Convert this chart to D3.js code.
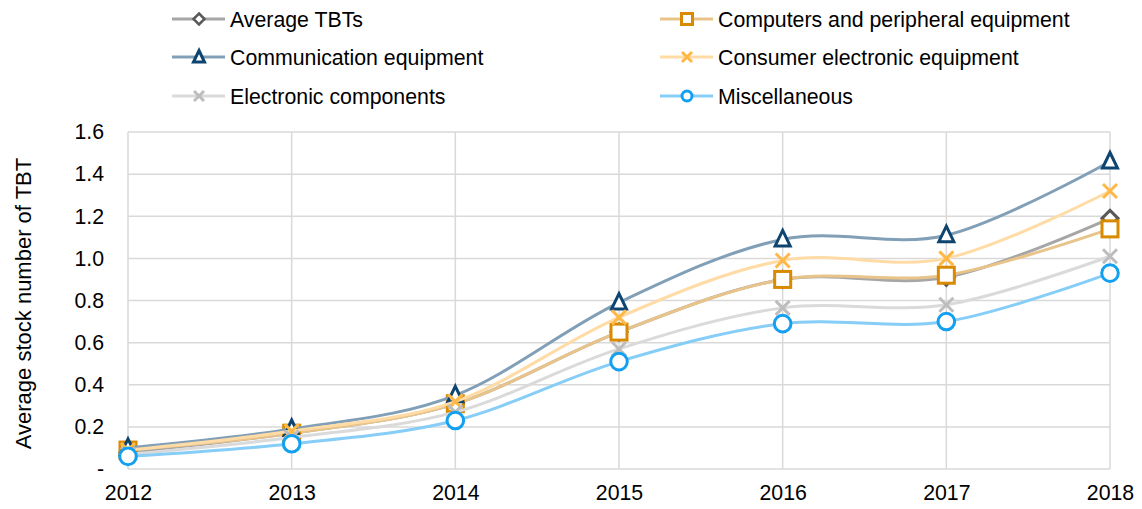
<!DOCTYPE html>
<html>
<head>
<meta charset="utf-8">
<script src="https://cdn.jsdelivr.net/npm/d3@7"></script>
<style>
  html, body { margin: 0; padding: 0; background: #fff; }
  svg { display: block; font-family: "Liberation Sans", Arial, sans-serif; }
</style>
</head>
<body>
<svg id="chart" width="1142" height="509"></svg>
<script>
// Years on the x axis
const years = [2012, 2013, 2014, 2015, 2016, 2017, 2018];

// Average stock number of TBTs per sector
const averageTBTs = [0.08, 0.17, 0.31, 0.65, 0.90, 0.91, 1.19];
const computers = [0.09, 0.17, 0.31, 0.65, 0.90, 0.92, 1.14];
const communication = [0.10, 0.19, 0.35, 0.79, 1.09, 1.11, 1.46];
const consumer = [0.09, 0.18, 0.32, 0.72, 0.99, 1.00, 1.32];
const components = [0.07, 0.15, 0.27, 0.57, 0.765, 0.78, 1.01];
const misc = [0.06, 0.12, 0.23, 0.51, 0.69, 0.70, 0.93];

const yTicks = [0, 0.2, 0.4, 0.6, 0.8, 1.0, 1.2, 1.4, 1.6];

const series = [
  { name: "Average TBTs", values: averageTBTs, line: "#a6a6a6", mark: "#595959", shape: "diamond", col: 0, row: 0 },
  { name: "Computers and peripheral equipment", values: computers, line: "#e8c48a", mark: "#d98a00", shape: "square", col: 1, row: 0 },
  { name: "Communication equipment", values: communication, line: "#819fb6", mark: "#0e4470", shape: "triangle", col: 0, row: 1 },
  { name: "Consumer electronic equipment", values: consumer, line: "#ffdba6", mark: "#ffb845", shape: "cross", col: 1, row: 1 },
  { name: "Electronic components", values: components, line: "#dadada", mark: "#bdbdbd", shape: "cross", col: 0, row: 2 },
  { name: "Miscellaneous", values: misc, line: "#86cdf7", mark: "#14a0f0", shape: "circle", col: 1, row: 2 }
];

const FONT = 21.3;
const svg = d3.select("#chart");
const margin = { left: 128, right: 32, top: 132, bottom: 40 };
const W = 1142, H = 509;

const x = d3.scalePoint().domain(years).range([margin.left, W - margin.right]);
const y = d3.scaleLinear().domain([0, 1.6]).range([H - margin.bottom, margin.top]);

// Gridlines
const grid = svg.append("g");
grid.selectAll("line.h").data(yTicks).join("line")
  .attr("x1", margin.left).attr("x2", W - margin.right)
  .attr("y1", d => y(d)).attr("y2", d => y(d))
  .attr("stroke", "#d9d9d9").attr("stroke-width", 1.5);
grid.selectAll("line.v").data(years).join("line")
  .attr("x1", d => x(d)).attr("x2", d => x(d))
  .attr("y1", y(1.6)).attr("y2", y(0))
  .attr("stroke", "#d9d9d9").attr("stroke-width", 1.5);

// Y axis labels
const yAxis = d3.axisLeft(y).tickValues(yTicks)
  .tickFormat(d => d === 0 ? "-" : d3.format(".1f")(d))
  .tickSize(0).tickPadding(24);
const gy = svg.append("g").attr("transform", `translate(${margin.left},0)`).call(yAxis);
gy.select(".domain").remove();
gy.selectAll("text").attr("font-size", FONT).attr("fill", "#000")
  .attr("font-family", "Liberation Sans, Arial, sans-serif");

// X axis labels
const xAxis = d3.axisBottom(x).tickSize(0).tickPadding(16);
const gx = svg.append("g").attr("transform", `translate(0,${y(0)})`).call(xAxis);
gx.select(".domain").remove();
gx.selectAll("text").attr("font-size", FONT).attr("fill", "#000")
  .attr("font-family", "Liberation Sans, Arial, sans-serif");

// Y axis title
svg.append("text")
  .attr("transform", `translate(31,${(y(0) + y(1.6)) / 2 + 3}) rotate(-90)`)
  .attr("text-anchor", "middle").attr("font-size", 22).attr("fill", "#000")
  .text("Average stock number of TBT");

// Marker drawing
function drawMarker(g, shape, color, cx, cy) {
  const sw = 3;
  if (shape === "circle") {
    g.append("circle").attr("cx", cx).attr("cy", cy).attr("r", 8.3)
      .attr("fill", "#fff").attr("stroke", color).attr("stroke-width", sw);
  } else if (shape === "square") {
    g.append("rect").attr("x", cx - 8).attr("y", cy - 8).attr("width", 16).attr("height", 16)
      .attr("fill", "#fff").attr("stroke", color).attr("stroke-width", sw);
  } else if (shape === "triangle") {
    g.append("path").attr("d", `M${cx},${cy - 9} L${cx + 7.5},${cy + 6.5} L${cx - 7.5},${cy + 6.5} Z`)
      .attr("fill", "#fff").attr("stroke", color).attr("stroke-width", sw).attr("stroke-linejoin", "miter");
  } else if (shape === "diamond") {
    g.append("path").attr("d", `M${cx},${cy - 8} L${cx + 8},${cy} L${cx},${cy + 8} L${cx - 8},${cy} Z`)
      .attr("fill", "#fff").attr("stroke", color).attr("stroke-width", sw);
  } else if (shape === "cross") {
    g.append("path").attr("d", `M${cx - 7},${cy - 7} L${cx + 7},${cy + 7} M${cx + 7},${cy - 7} L${cx - 7},${cy + 7}`)
      .attr("fill", "none").attr("stroke", color).attr("stroke-width", 3);
  }
}

function drawLegendMarker(g, shape, color, cx, cy) {
  const sw = 3;
  if (shape === "circle") {
    g.append("circle").attr("cx", cx).attr("cy", cy).attr("r", 5)
      .attr("fill", "#fff").attr("stroke", color).attr("stroke-width", sw);
  } else if (shape === "square") {
    g.append("rect").attr("x", cx - 5.5).attr("y", cy - 5.5).attr("width", 11).attr("height", 11)
      .attr("fill", "#fff").attr("stroke", color).attr("stroke-width", sw);
  } else if (shape === "triangle") {
    g.append("path").attr("d", `M${cx},${cy - 6.5} L${cx + 5.5},${cy + 5} L${cx - 5.5},${cy + 5} Z`)
      .attr("fill", "#fff").attr("stroke", color).attr("stroke-width", sw);
  } else if (shape === "diamond") {
    g.append("path").attr("d", `M${cx},${cy - 5.5} L${cx + 5.5},${cy} L${cx},${cy + 5.5} L${cx - 5.5},${cy} Z`)
      .attr("fill", "#fff").attr("stroke", color).attr("stroke-width", 2.5);
  } else if (shape === "cross") {
    g.append("path").attr("d", `M${cx - 5},${cy - 5} L${cx + 5},${cy + 5} M${cx + 5},${cy - 5} L${cx - 5},${cy + 5}`)
      .attr("fill", "none").attr("stroke", color).attr("stroke-width", 3);
  }
}

// Smoothed series lines with markers
const line = d3.line()
  .x((d, i) => x(years[i]))
  .y(d => y(d))
  .curve(d3.curveCardinal.tension(0));

series.forEach(s => {
  const g = svg.append("g");
  g.append("path").attr("d", line(s.values))
    .attr("fill", "none").attr("stroke", s.line).attr("stroke-width", 3);
  s.values.forEach((v, i) => drawMarker(g, s.shape, s.mark, x(years[i]), y(v)));
});

// Legend
const legend = svg.append("g");
const colX = [172, 660];
const rowY = [19, 57, 96];
series.forEach(s => {
  const lx = colX[s.col], ly = rowY[s.row];
  const g = legend.append("g");
  g.append("line").attr("x1", lx).attr("x2", lx + 53).attr("y1", ly).attr("y2", ly)
    .attr("stroke", s.line).attr("stroke-width", 3);
  drawLegendMarker(g, s.shape, s.mark, lx + 27, ly);
  g.append("text").attr("x", lx + 58).attr("y", ly + 7.5)
    .attr("font-size", FONT).attr("fill", "#000").text(s.name);
});
</script>
</body>
</html>
